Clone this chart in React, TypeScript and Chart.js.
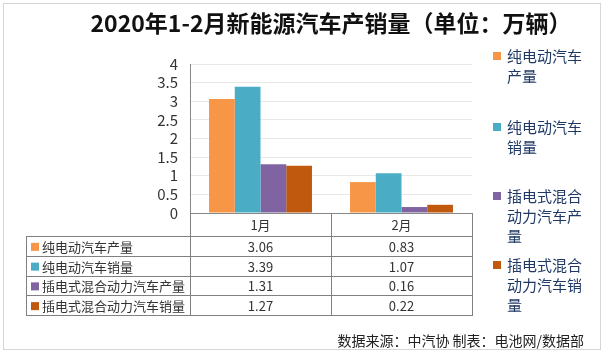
import React, { useEffect, useRef } from "react";
import { Chart, registerables } from "chart.js";

Chart.register(...registerables);

const titleText = "2020年1-2月新能源汽车产销量（单位：万辆）";
const footerText = "数据来源：中汽协 制表：电池网/数据部";
const categories = ["1月", "2月"];
const seriesNames = [
  "纯电动汽车产量",
  "纯电动汽车销量",
  "插电式混合动力汽车产量",
  "插电式混合动力汽车销量",
];
const legendLines = [
  ["纯电动汽车", "产量"],
  ["纯电动汽车", "销量"],
  ["插电式混合", "动力汽车产", "量"],
  ["插电式混合", "动力汽车销", "量"],
];
const bevProduction = [3.06, 0.83];
const bevSales = [3.39, 1.07];
const phevProduction = [1.31, 0.16];
const phevSales = [1.27, 0.22];
const seriesValues = [bevProduction, bevSales, phevProduction, phevSales];
const seriesColors = ["#F79646", "#4BACC6", "#8064A2", "#C0580E"];
const yMin = 0;
const yMax = 4;
const yStep = 0.5;

const FONT = "'Noto Sans CJK SC', 'Noto Sans', sans-serif";

const decorPlugin = {
  id: "decor",
  beforeDraw(chart: any) {
    const ctx = chart.ctx;
    ctx.save();
    ctx.fillStyle = "#FFFFFF";
    ctx.fillRect(0, 0, chart.width, chart.height);
    ctx.strokeStyle = "#D6D6D6";
    ctx.lineWidth = 1;
    ctx.strokeRect(3.5, 3.5, 597, 346);
    ctx.restore();
  },
  afterDraw(chart: any) {
    const ctx = chart.ctx;
    const ca = chart.chartArea;
    const xs = chart.scales.x;
    ctx.save();

    // Title
    ctx.fillStyle = "#111111";
    ctx.font = `bold 23px ${FONT}`;
    ctx.textAlign = "center";
    ctx.textBaseline = "middle";
    ctx.fillText(titleText, 331, 23);

    // Legend
    const legendTops = [56, 127, 196, 265];
    ctx.font = `15px ${FONT}`;
    ctx.textAlign = "left";
    legendLines.forEach((lines, i) => {
      const y0 = legendTops[i];
      ctx.fillStyle = seriesColors[i];
      ctx.fillRect(493, y0 - 4, 8, 8);
      ctx.fillStyle = "#1F3864";
      lines.forEach((ln, j) => {
        ctx.fillText(ln, 507, y0 + j * 20);
      });
    });

    // Data table
    const step = xs.getPixelForValue(1) - xs.getPixelForValue(0);
    const bounds = [ca.left];
    categories.forEach((_, i) => bounds.push(xs.getPixelForValue(i) + step / 2));
    const tableLeft = 26;
    const headerTop = ca.bottom;
    const headerBottom = 236;
    const rowH = 19.75;
    const tableBottom = headerBottom + rowH * seriesNames.length;

    ctx.strokeStyle = "#808080";
    ctx.lineWidth = 1;
    ctx.beginPath();
    bounds.forEach((bx) => {
      const px = Math.round(bx) + 0.5;
      ctx.moveTo(px, headerTop);
      ctx.lineTo(px, tableBottom);
    });
    ctx.moveTo(tableLeft + 0.5, headerBottom);
    ctx.lineTo(tableLeft + 0.5, tableBottom);
    for (let r = 0; r <= seriesNames.length; r++) {
      const py = Math.round(headerBottom + r * rowH) + 0.5;
      ctx.moveTo(tableLeft, py);
      ctx.lineTo(bounds[bounds.length - 1] + 1, py);
    }
    ctx.stroke();

    ctx.fillStyle = "#333333";
    ctx.font = `13px ${FONT}`;
    ctx.textAlign = "center";
    categories.forEach((c, i) => {
      ctx.fillText(c, xs.getPixelForValue(i), (headerTop + headerBottom) / 2 + 1);
    });
    seriesNames.forEach((name, r) => {
      const cy = headerBottom + r * rowH + rowH / 2 + 1;
      ctx.fillStyle = seriesColors[r];
      ctx.fillRect(31, cy - 4, 8, 8);
      ctx.fillStyle = "#333333";
      ctx.textAlign = "left";
      ctx.font = `13px ${FONT}`;
      ctx.fillText(name, 42, cy);
      ctx.textAlign = "center";
      ctx.fillText("", 0, 0);
      seriesValues[r].forEach((v, i) => {
        ctx.fillText(v.toFixed(2), xs.getPixelForValue(i), cy);
      });
    });

    // Footer
    ctx.fillStyle = "#222222";
    ctx.font = `14px ${FONT}`;
    ctx.textAlign = "right";
    ctx.fillText(footerText, 584, 341);

    ctx.restore();
  },
};

export default function App() {
  const canvasRef = useRef<HTMLCanvasElement | null>(null);

  useEffect(() => {
    if (!canvasRef.current) return;
    const chart = new Chart(canvasRef.current, {
      type: "bar",
      data: {
        labels: categories,
        datasets: seriesNames.map((name, i) => ({
          label: name,
          data: seriesValues[i],
          backgroundColor: seriesColors[i],
          borderWidth: 0,
          barPercentage: 1,
          categoryPercentage: 0.73,
        })),
      },
      options: {
        animation: false,
        responsive: false,
        devicePixelRatio: 1,
        layout: { padding: { left: 0, top: 64, right: 136, bottom: 143 } },
        plugins: {
          legend: { display: false },
          title: { display: false },
          tooltip: { enabled: false },
        },
        scales: {
          x: { display: false },
          y: {
            min: yMin,
            max: yMax,
            ticks: {
              stepSize: yStep,
              autoSkip: false,
              padding: 12,
              color: "#333333",
              font: { size: 15, family: FONT },
              callback: (v: any) => String(Number(v)),
            },
            grid: {
              color: (c: any) => (c.tick && c.tick.value === 0 ? "#888888" : "#E8E8E8"),
              drawTicks: false,
            },
            border: { display: true, color: "#888888" },
            afterFit: (s: any) => {
              s.width = 190;
            },
          },
        },
      },
      plugins: [decorPlugin],
    });
    return () => chart.destroy();
  }, []);

  return (
    <div style={{ position: "fixed", left: 0, top: 0, width: 608, height: 356 }}>
      <canvas ref={canvasRef} width={608} height={356} style={{ display: "block" }} />
    </div>
  );
}
